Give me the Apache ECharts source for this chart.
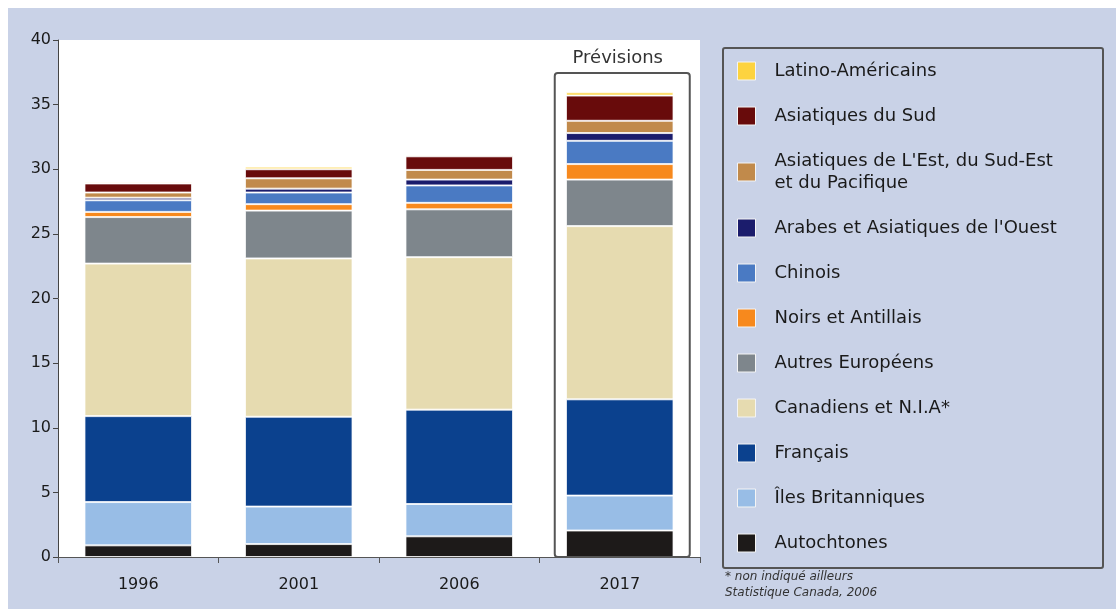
<!DOCTYPE html>
<html>
<head>
<meta charset="utf-8">
<script src="https://cdn.jsdelivr.net/npm/echarts@6/dist/echarts.min.js"></script>
<style>
  html, body { margin: 0; padding: 0; background: #fff; }
  #bg { position: absolute; left: 8px; top: 8px; width: 1108px; height: 601px; background: #c9d2e7; }
  #chart { position: absolute; left: 0; top: 0; width: 1116px; height: 609px; }
</style>
</head>
<body>
<div id="bg"></div>
<div id="chart"></div>
<script>
// catégories (années)
const years = ['1996', '2001', '2006', '2017']

// valeurs par groupe (millions), du bas vers le haut de la pile
const autochtones = [0.9, 1.0, 1.6, 2.05]
const ilesBritanniques = [3.35, 2.9, 2.5, 2.7]
const francais = [6.65, 6.95, 7.3, 7.45]
const canadiens = [11.8, 12.25, 11.8, 13.4]
const autresEuropeens = [3.6, 3.7, 3.7, 3.6]
const noirsAntillais = [0.4, 0.5, 0.5, 1.2]
const chinois = [0.9, 0.9, 1.35, 1.8]
const arabesAsieOuest = [0.2, 0.3, 0.45, 0.6]
const asiatiquesEst = [0.4, 0.8, 0.75, 0.95]
const asiatiquesSud = [0.7, 0.7, 1.05, 1.95]
const latinoAmericains = [0.1, 0.2, 0.1, 0.25]

const yTicks = { min: 0, max: 40, interval: 5 }

const groups = [
  { name: 'Autochtones', data: autochtones, color: '#1d1a19' },
  { name: 'Îles Britanniques', data: ilesBritanniques, color: '#98bde6' },
  { name: 'Français', data: francais, color: '#0b418e' },
  { name: 'Canadiens et N.I.A*', data: canadiens, color: '#e6dbb0' },
  { name: 'Autres Européens', data: autresEuropeens, color: '#7e868c' },
  { name: 'Noirs et Antillais', data: noirsAntillais, color: '#f7891d' },
  { name: 'Chinois', data: chinois, color: '#4a7ac3' },
  { name: "Arabes et Asiatiques de l'Ouest", data: arabesAsieOuest, color: '#1b1c6c' },
  { name: "Asiatiques de L'Est, du Sud-Est\net du Pacifique", data: asiatiquesEst, color: '#c18a4b' },
  { name: 'Asiatiques du Sud', data: asiatiquesSud, color: '#680b0b' },
  { name: 'Latino-Américains', data: latinoAmericains, color: '#fdd33f' },
]

const font = 'DejaVu Sans'
const ink = '#1a1a1a'
const chart = echarts.init(document.getElementById('chart'))

const option = {
  backgroundColor: 'transparent',
  animation: false,
  textStyle: { fontFamily: font },
  grid: {
    left: 58, top: 40, right: 416, bottom: 52,
    show: true, backgroundColor: '#fff', borderWidth: 0,
  },
  legend: {
    orient: 'vertical',
    left: 737,
    top: 60,
    padding: 0,
    itemWidth: 18,
    itemHeight: 18,
    itemGap: 23,
    icon: 'rect',
    selectedMode: false,
    data: groups.map((g) => g.name).reverse(),
    itemStyle: { borderColor: '#f4f4f4', borderWidth: 1 },
    textStyle: {
      fontFamily: font, fontSize: 18, color: ink,
      lineHeight: 22, padding: [0, 0, 0, 14],
    },
  },
  xAxis: {
    type: 'category',
    data: years,
    axisLine: { lineStyle: { color: '#555', width: 1 } },
    axisTick: { show: true, length: 6, lineStyle: { color: '#555' } },
    axisLabel: { color: ink, fontSize: 16, margin: 20, fontFamily: font },
  },
  yAxis: {
    type: 'value',
    min: yTicks.min,
    max: yTicks.max,
    interval: yTicks.interval,
    axisLine: { show: true, lineStyle: { color: '#444', width: 1 } },
    axisTick: { show: true, length: 5, lineStyle: { color: '#444' } },
    splitLine: { show: false },
    axisLabel: { color: ink, fontSize: 16, margin: 7, fontFamily: font },
  },
  series: groups.map((g) => ({
    name: g.name,
    type: 'bar',
    stack: 'total',
    barWidth: '67%',
    data: g.data,
    itemStyle: { color: g.color, borderColor: 'rgba(255,255,255,0.75)', borderWidth: 1 },
  })),
}

chart.setOption(option)

// encadré « Prévisions » autour de la barre 2017
const cx = chart.convertToPixel({ xAxisIndex: 0 }, '2017')
const yTop = chart.convertToPixel({ yAxisIndex: 0 }, 37.45)
const yZero = chart.convertToPixel({ yAxisIndex: 0 }, 0)

chart.setOption({
  graphic: [
    {
      type: 'rect',
      shape: { x: cx - 65, y: yTop, width: 135, height: yZero - yTop, r: 3 },
      style: { fill: 'none', stroke: '#555', lineWidth: 2 },
      z: 10,
    },
    {
      type: 'text',
      x: cx - 2, y: yTop - 15,
      style: { text: 'Prévisions', font: '18px "DejaVu Sans"', fill: '#333', textAlign: 'center', textVerticalAlign: 'middle' },
    },
    {
      type: 'rect',
      shape: { x: 723, y: 48, width: 380, height: 520, r: 2 },
      style: { fill: 'none', stroke: '#555', lineWidth: 2 },
    },
    {
      type: 'text',
      x: 725, y: 577,
      style: { text: '* non indiqué ailleurs', font: 'italic 12px "DejaVu Sans"', fill: '#333', textVerticalAlign: 'middle' },
    },
    {
      type: 'text',
      x: 725, y: 593,
      style: { text: 'Statistique Canada, 2006', font: 'italic 12px "DejaVu Sans"', fill: '#333', textVerticalAlign: 'middle' },
    },
  ],
})
</script>
</body>
</html>
